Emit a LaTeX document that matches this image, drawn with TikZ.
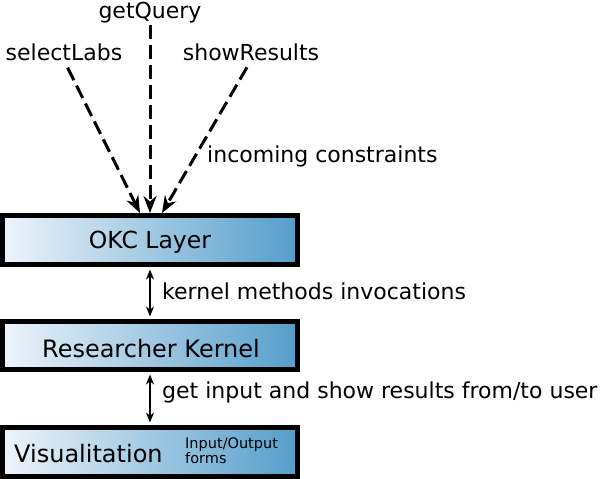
\documentclass[tikz,border=0pt]{standalone}
\usepackage{fontspec}
\setmainfont{DejaVu Sans}
\usetikzlibrary{arrows.meta}
\definecolor{gleft}{RGB}{238,244,251}
\definecolor{gright}{RGB}{84,158,202}
\tikzset{
  layerbox/.style={draw=black, line width=5pt, rectangle, inner sep=0pt,
    minimum width=295pt, left color=gleft, right color=gright,
    font=\fontsize{24}{28}\selectfont},
  lbl/.style={inner sep=0pt, anchor=base, font=\fontsize{22}{26}\selectfont},
  lblw/.style={lbl, anchor=base west},
  small/.style={inner sep=0pt, anchor=base west, font=\fontsize{14.5}{16}\selectfont},
  constraint/.style={line width=3pt, dash pattern=on 14pt off 6pt,
    -{Stealth[length=17pt,width=13pt]}},
  invoke/.style={line width=2pt, {Stealth[length=10pt,width=8pt]}-{Stealth[length=10pt,width=8pt]},
    shorten <=2.5pt, shorten >=2.5pt}
}
\begin{document}
\begin{tikzpicture}[x=1pt,y=-1pt]
\useasboundingbox (0,0) rectangle (600,479);
% layer boxes
\node[layerbox, minimum height=49pt] (okc) at (150,240) {};
\node[lbl, font=\fontsize{23.5}{28}\selectfont] (okct) at (150,248) {OKC Layer};
\node[layerbox, minimum height=48pt] (rk) at (150,345.5) {};
\node[lbl, font=\fontsize{24}{28}\selectfont] (rkt) at (151,357) {Researcher Kernel};
\node[layerbox, minimum height=49pt] (vis) at (150,452) {};
\node[lblw, font=\fontsize{24}{28}\selectfont] (vist) at (14,462) {Visualitation};
\node[small] (io1) at (185,448) {Input/Output};
\node[small] (io2) at (185,463) {forms};
% incoming labels
\node[lbl] (lsel) at (64,60) {selectLabs};
\node[lbl] (lget) at (150,18) {getQuery};
\node[lbl] (lshow) at (251,60) {showResults};
\node[lblw] (linc) at (207,162) {incoming constraints};
% arrow end points on OKC top
\coordinate (t1) at (140,213);
\coordinate (t2) at (150,213);
\coordinate (t3) at (162,213);
\draw[constraint, shorten <=8pt] (lsel.south) -- (t1);
\draw[constraint, shorten <=2pt] (lget.south) -- (t2);
\draw[constraint, shorten <=8pt] (lshow.south) -- (t3);
% invocation arrows
\draw[invoke] (okc.south) -- (rk.north);
\draw[invoke] (rk.south) -- (vis.north);
\node[lblw] (lker) at (162,299) {kernel methods invocations};
\node[lblw] (luser) at (162,398) {get input and show results from/to user};
\end{tikzpicture}
\end{document}
